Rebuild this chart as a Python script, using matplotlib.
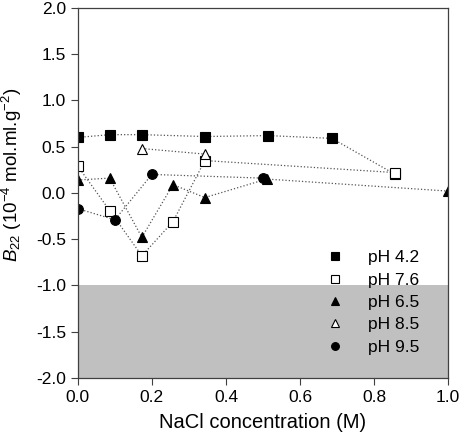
import matplotlib
matplotlib.use('Agg')
import matplotlib.pyplot as plt

plt.rcParams['font.family'] = ['Liberation Sans', 'DejaVu Sans']
plt.rcParams['mathtext.fontset'] = 'custom'
plt.rcParams['mathtext.rm'] = 'Liberation Sans'
plt.rcParams['mathtext.it'] = 'Liberation Sans:italic'

# data (NaCl M, B22)
x_42 = [0.0, 0.086, 0.173, 0.343, 0.514, 0.686, 0.857]
y_42 = [0.60, 0.63, 0.63, 0.61, 0.62, 0.59, 0.20]

x_76 = [0.0, 0.086, 0.173, 0.257, 0.343, 0.857]
y_76 = [0.29, -0.19, -0.68, -0.31, 0.35, 0.22]

x_65 = [0.0, 0.086, 0.173, 0.257, 0.343, 0.51, 1.0]
y_65 = [0.14, 0.16, -0.48, 0.09, -0.05, 0.15, 0.02]

x_85 = [0.173, 0.343]
y_85 = [0.48, 0.42]

x_95 = [0.0, 0.10, 0.20, 0.50]
y_95 = [-0.17, -0.29, 0.20, 0.16]

series = [
    (x_42, y_42, 's', 'black', 'pH 4.2'),
    (x_76, y_76, 's', 'white', 'pH 7.6'),
    (x_65, y_65, '^', 'black', 'pH 6.5'),
    (x_85, y_85, '^', 'white', 'pH 8.5'),
    (x_95, y_95, 'o', 'black', 'pH 9.5'),
]

fig = plt.figure(figsize=(4.63, 4.41), dpi=100)
ax = fig.add_axes([0.168, 0.143, 0.800, 0.839])

ax.axhspan(-2.0, -1.0, color='#c0c0c0', zorder=0, lw=0)

for xs, ys, mk, fc, lab in series:
    ax.plot(xs, ys, linestyle=':', color='#555555', linewidth=0.9,
            marker=mk, markersize=7, markerfacecolor=fc,
            markeredgecolor='black', markeredgewidth=0.8, label=lab)

ax.set_xlim(0, 1.0)
ax.set_ylim(-2.0, 2.0)
ax.set_xticks([0.0, 0.2, 0.4, 0.6, 0.8, 1.0])
ax.set_yticks([-2.0, -1.5, -1.0, -0.5, 0.0, 0.5, 1.0, 1.5, 2.0])
ax.set_xticklabels(['0.0', '0.2', '0.4', '0.6', '0.8', '1.0'])
ax.set_yticklabels(['-2.0', '-1.5', '-1.0', '-0.5', '0.0', '0.5', '1.0', '1.5', '2.0'])
ax.tick_params(direction='out', length=5, width=0.8, labelsize=12.5, color='#404040')
for s in ax.spines.values():
    s.set_color('#404040')
    s.set_linewidth(0.9)

ax.set_xlabel('NaCl concentration (M)', fontsize=14.5, labelpad=6)
ax.set_ylabel(r'$\mathit{B}_{22}$ (10$^{-4}$ mol.ml.g$^{-2}$)', fontsize=13.5)
ax.yaxis.set_label_coords(-0.145, 0.55)

leg = ax.legend(loc='lower right', bbox_to_anchor=(0.965, 0.02), frameon=False,
                fontsize=12.5, markerscale=0.8, handlelength=1.2,
                handletextpad=1.3, labelspacing=0.42, numpoints=1)
for h in leg.get_lines():
    h.set_linestyle('None')

fig.savefig('out.png', dpi=100)
